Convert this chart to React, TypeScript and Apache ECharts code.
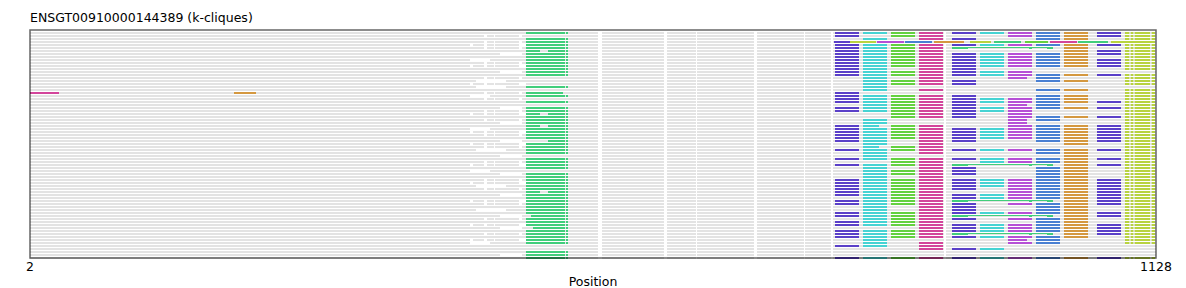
import React, { useEffect, useRef } from "react";
import * as echarts from "echarts";

// ---------- text ----------
const TITLE = "ENSGT00910000144389 (k-cliques)";
const X_NAME = "Position";
const X_MIN = 2;
const X_MAX = 1128;
const X_TICKS = [2, 1128];
const ROW_COUNT = 76;

// ---------- grey alignment background (positions) ----------
const GREY_BASE: number[][] = [
  [2, 442], [498, 570], [574, 636], [639, 668], [669, 726],
  [729, 776], [777, 803], [805, 916], [918, 1128],
];
const GREY_LEFT_TEMPLATES: Record<string, number[][]> = {
  "0": [[442, 498]],
  "1": [[442, 456], [459, 466], [467, 491], [494, 498]],
  "2": [[442, 472], [494, 498]],
  "3": [[445, 456], [459, 466], [467, 491]],
  "4": [[462, 498]],
  "5": [[442, 448], [478, 498]],
};
const GREY_LEFT_PATTERN =
  "0101310204130201535014100213012043102315020130420135102031050210320103400020";

// ---------- clique blocks: rows where each block is present ----------
const GREEN_ROWS = [0, 2, 3, 4, 5, 6, 7, 8, 9, 10, 11, 12, 13, 14, 18, 20, 21, 23, 25, 26, 27, 28, 29, 30, 31, 32, 33, 34, 35, 36, 37, 38, 39, 40, 42, 43, 44, 45, 47, 48, 49, 50, 51, 52, 53, 54, 55, 56, 57, 58, 59, 60, 61, 62, 63, 64, 65, 66, 67, 68, 69, 70, 73, 74, 75];
const GREEN_GAP_ROWS = [6, 27, 31, 53];
const GREEN_LATE_START = [[36, 520], [61, 503], [65, 505]];
const GREEN_SHORT_ROWS = [20];

const P1_ROWS = [0, 1, 4, 5, 6, 7, 8, 9, 10, 11, 12, 13, 14, 20, 21, 22, 23, 25, 26, 31, 32, 33, 34, 35, 36, 39, 42, 44, 49, 50, 51, 52, 53, 54, 56, 57, 60, 61, 63, 64, 66, 67, 68, 71, 75];
const C1_ROWS = [0, 2, 4, 5, 6, 7, 8, 9, 10, 11, 12, 13, 14, 15, 16, 17, 18, 19, 21, 22, 23, 24, 25, 26, 29, 30, 31, 32, 33, 34, 35, 36, 37, 38, 39, 40, 41, 42, 44, 45, 46, 47, 48, 49, 50, 51, 52, 53, 54, 55, 56, 57, 58, 59, 60, 61, 62, 63, 64, 66, 67, 68, 69, 70, 71, 75];
const C1_SHORT_ROWS = [31, 38];
const G1_ROWS = [0, 1, 4, 5, 6, 7, 8, 9, 10, 11, 13, 14, 16, 17, 21, 22, 23, 24, 25, 26, 27, 28, 31, 32, 33, 34, 35, 38, 39, 42, 43, 44, 46, 47, 49, 50, 51, 52, 53, 54, 55, 56, 57, 60, 61, 62, 63, 64, 66, 67, 68, 75];
const K1_ROWS = [0, 1, 2, 4, 5, 6, 7, 8, 9, 10, 11, 12, 13, 14, 15, 16, 17, 19, 21, 22, 23, 24, 25, 26, 27, 28, 31, 32, 33, 34, 35, 36, 37, 38, 39, 40, 42, 43, 44, 45, 46, 47, 48, 49, 50, 51, 52, 53, 54, 55, 56, 57, 58, 59, 60, 61, 62, 63, 64, 65, 66, 67, 68, 70, 71, 72, 75];
const P2_ROWS = [0, 2, 4, 7, 8, 9, 10, 11, 12, 13, 14, 16, 17, 21, 22, 23, 24, 25, 26, 27, 28, 32, 33, 34, 35, 36, 39, 42, 45, 46, 47, 49, 50, 51, 52, 54, 55, 57, 58, 59, 60, 62, 64, 65, 66, 68, 72, 75];
const C2_ROWS = [0, 4, 7, 8, 9, 10, 11, 13, 14, 22, 23, 25, 26, 32, 33, 34, 35, 39, 42, 43, 49, 50, 51, 54, 55, 60, 64, 65, 66, 68, 72, 75];
const V_ROWS = [0, 1, 4, 7, 8, 9, 10, 11, 13, 14, 15, 22, 23, 24, 25, 26, 27, 28, 29, 30, 31, 32, 33, 34, 35, 39, 42, 43, 49, 50, 51, 52, 53, 54, 55, 57, 60, 62, 64, 65, 66, 68, 69, 70, 75];
const V_SHORT_ROWS = [15, 24, 29, 30, 69];
const B_ROWS = [0, 1, 2, 4, 7, 8, 9, 10, 11, 14, 15, 16, 19, 21, 22, 23, 24, 25, 28, 29, 31, 32, 33, 34, 35, 36, 39, 40, 42, 43, 45, 46, 47, 48, 49, 50, 51, 52, 53, 54, 55, 57, 58, 59, 60, 62, 63, 64, 65, 66, 68, 69, 70, 75];
const O_ROWS = [0, 1, 2, 4, 5, 6, 7, 8, 9, 10, 11, 14, 16, 19, 21, 22, 23, 25, 28, 31, 32, 33, 34, 35, 36, 37, 39, 40, 41, 42, 43, 44, 45, 46, 47, 48, 49, 50, 51, 52, 53, 54, 55, 56, 57, 58, 59, 60, 61, 62, 63, 64, 65, 66, 67, 68, 75];
const P3_ROWS = [0, 1, 4, 6, 7, 9, 10, 11, 14, 23, 25, 28, 31, 32, 33, 34, 35, 36, 39, 42, 44, 49, 50, 51, 52, 53, 54, 55, 56, 57, 60, 61, 64, 65, 66, 67, 75];
const Y_ROWS = [0, 1, 2, 4, 5, 6, 7, 8, 9, 10, 11, 12, 14, 15, 16, 17, 19, 20, 21, 22, 23, 24, 25, 26, 27, 28, 29, 30, 31, 32, 33, 34, 35, 36, 37, 38, 39, 40, 41, 42, 43, 44, 45, 46, 47, 48, 49, 50, 51, 52, 53, 54, 55, 56, 57, 58, 59, 60, 61, 62, 63, 64, 65, 66, 67, 68, 69, 70, 75];
const THIN_GREEN_ROWS = [5, 44, 56, 61, 67];

// block spans (alignment positions)
const GREEN_SPAN = [498, 537];
const GREEN_GAP = [512, 520];
const GREEN_TAIL = [538, 540];
const P1_SPAN = [807, 831];
const C1_SPAN = [835, 859];
const C1_SHORT_END = 851;
const G1_SPAN = [863, 887];
const K1_SPAN = [891, 915];
const P2_SPAN = [924, 948];
const C2_SPAN = [952, 976];
const V_SPAN = [980, 1004];
const V_SHORT_END = 999;
const B_SPAN = [1008, 1032];
const O_SPAN = [1036, 1060];
const P3_SPAN = [1069, 1093];
const Y_PIECES = [[1097, 1101.3], [1102.7, 1105.3], [1106.7, 1122], [1123.7, 1127]];
const THIN_GREEN_HEAD = [924, 940];
const THIN_GREEN_LINE = [940, 1025];
const THIN_GREEN_MARKS = [[1001, 1004], [1019, 1025]];

// the divergent sequence (row 3) and the row with far-left hits (row 20)
const ROW3 = 3;
const ROW3_SEGMENTS: [number, number, string][] = [
  [806, 822, "P"], [822, 848, "Y"], [849, 876, "V"], [877, 904, "B"],
  [906, 936, "O"], [942, 963, "Y"], [966, 993, "G0"], [997, 1020, "G1"],
  [1022, 1049, "K"], [1050, 1080, "G0"], [1083, 1127, "Y"],
];
const ROW20 = 20;
const ROW20_SEGMENTS: [number, number, string][] = [
  [2, 31, "K"], [206, 228, "O"],
];

const PALETTE: Record<string, string> = {
  grey: "#e3e3e3",
  G0: "#41ce7b",
  P: "#5a40c8",
  C: "#46d3d3",
  G1: "#63d140",
  K: "#d3459b",
  V: "#b650d6",
  B: "#4a80d2",
  O: "#d49840",
  Y: "#b8d340",
};
const COLOR_KEYS = Object.keys(PALETTE);

function buildSegments() {
  const grey: number[][] = [];
  const colored: number[][] = [];
  const add = (arr: number[][], row: number, s: number, e: number, key: string, thin = 0) =>
    arr.push([s, row, e, COLOR_KEYS.indexOf(key), thin]);

  for (let r = 0; r < ROW_COUNT; r++) {
    for (const [s, e] of GREY_BASE) add(grey, r, s, e, "grey");
    const tpl = GREY_LEFT_TEMPLATES[GREY_LEFT_PATTERN[r] ?? "0"] || GREY_LEFT_TEMPLATES["0"];
    for (const [s, e] of tpl) add(grey, r, s, e, "grey");
  }

  for (const r of GREEN_ROWS) {
    const late = GREEN_LATE_START.find((d) => d[0] === r);
    const start = late ? late[1] : GREEN_SPAN[0];
    if (GREEN_SHORT_ROWS.includes(r)) {
      add(colored, r, start, GREEN_SPAN[1] - 2, "G0");
      continue;
    }
    if (GREEN_GAP_ROWS.includes(r)) {
      add(colored, r, start, GREEN_GAP[0], "G0");
      add(colored, r, GREEN_GAP[1], GREEN_SPAN[1], "G0");
    } else {
      add(colored, r, start, GREEN_SPAN[1], "G0");
    }
    add(colored, r, GREEN_TAIL[0], GREEN_TAIL[1], "G0");
  }

  const blocks: [number[], number[], string, number[]?, number?][] = [
    [P1_ROWS, P1_SPAN, "P"],
    [C1_ROWS, C1_SPAN, "C", C1_SHORT_ROWS, C1_SHORT_END],
    [G1_ROWS, G1_SPAN, "G1"],
    [K1_ROWS, K1_SPAN, "K"],
    [P2_ROWS, P2_SPAN, "P"],
    [C2_ROWS, C2_SPAN, "C"],
    [V_ROWS, V_SPAN, "V", V_SHORT_ROWS, V_SHORT_END],
    [B_ROWS, B_SPAN, "B"],
    [O_ROWS, O_SPAN, "O"],
    [P3_ROWS, P3_SPAN, "P"],
  ];
  for (const [rows, span, key, shortRows, shortEnd] of blocks) {
    for (const r of rows) {
      const end = shortRows && shortRows.includes(r) ? (shortEnd as number) : span[1];
      add(colored, r, span[0], end, key);
    }
  }
  for (const r of Y_ROWS) for (const [s, e] of Y_PIECES) add(colored, r, s, e, "Y");

  for (const r of THIN_GREEN_ROWS) {
    add(colored, r, THIN_GREEN_HEAD[0], THIN_GREEN_HEAD[1], "G0");
    add(colored, r, THIN_GREEN_LINE[0], THIN_GREEN_LINE[1], "G0", 1);
    for (const [s, e] of THIN_GREEN_MARKS) add(colored, r, s, e, "G0");
  }
  for (const [s, e, k] of ROW3_SEGMENTS) add(colored, ROW3, s, e, k);
  for (const [s, e, k] of ROW20_SEGMENTS) add(colored, ROW20, s, e, k);
  return { grey, colored };
}

const FONT = "DejaVu Sans";

export default function App() {
  const ref = useRef<HTMLDivElement>(null);
  useEffect(() => {
    if (!ref.current) return;
    const chart = echarts.init(ref.current, undefined, { renderer: "svg" });
    const { grey, colored } = buildSegments();
    const renderItem = (_params: any, api: any) => {
      const row = api.value(1);
      const p1 = api.coord([api.value(0), row]);
      const p2 = api.coord([api.value(2), row]);
      const thin = api.value(4) === 1;
      const h = thin ? 1 : 2;
      return {
        type: "rect",
        shape: { x: p1[0], y: p1[1] - 1, width: Math.max(p2[0] - p1[0], 0.5), height: h },
        style: { fill: PALETTE[COLOR_KEYS[api.value(3)]] },
      };
    };
    chart.setOption({
      animation: false,
      title: {
        text: TITLE,
        left: 25,
        top: 6,
        textStyle: { fontFamily: FONT, fontSize: 12.5, fontWeight: "normal", color: "#000" },
      },
      grid: {
        left: 30,
        right: 30,
        top: 30,
        bottom: 30,
        outerBoundsMode: "none",
        containLabel: false,
        show: true,
        borderColor: "rgba(0,0,0,0.6)",
        borderWidth: 1.5,
        backgroundColor: "transparent",
        z: 10,
      },
      xAxis: {
        type: "value",
        min: X_MIN,
        max: X_MAX,
        name: X_NAME,
        nameLocation: "middle",
        nameGap: 16,
        nameMoveOverlap: false,
        nameTextStyle: { fontFamily: FONT, fontSize: 12.5, color: "#000", verticalAlign: "top", lineHeight: 14 },
        axisLine: { show: false },
        axisTick: { show: false },
        splitLine: { show: false },
        axisLabel: {
          customValues: X_TICKS,
          formatter: (v: number) => String(v),
          fontFamily: FONT,
          fontSize: 12.5,
          color: "#000",
          margin: 2,
        },
      },
      yAxis: {
        type: "value",
        min: -1,
        max: ROW_COUNT - 1,
        inverse: true,
        axisLine: { show: false },
        axisTick: { show: false },
        axisLabel: { show: false },
        splitLine: { show: false },
      },
      series: [
        { type: "custom", renderItem, data: grey, z: 1, silent: true },
        { type: "custom", renderItem, data: colored, z: 2, silent: true },
      ],
    });
    return () => chart.dispose();
  }, []);
  return (
    <div
      ref={ref}
      style={{ position: "fixed", left: 0, top: 0, width: 1186, height: 288, background: "#fff" }}
    />
  );
}
